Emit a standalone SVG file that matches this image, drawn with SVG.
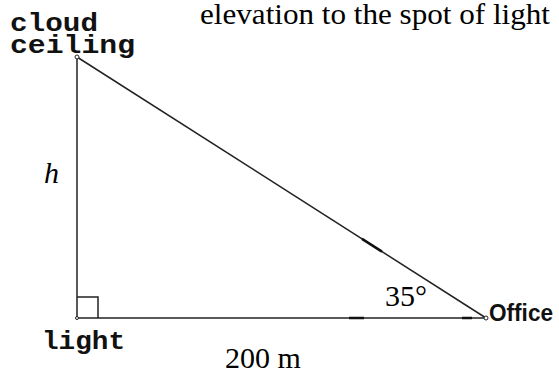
<svg xmlns="http://www.w3.org/2000/svg" width="559" height="372" viewBox="0 0 559 372">
<style>
.ln{stroke:#222;stroke-width:1.5;fill:none}
.thk{stroke:#111;stroke-width:2.5;fill:none}
.pt{fill:#fff;stroke:#222;stroke-width:1}
.mono{font-family:"Liberation Mono","DejaVu Sans Mono",monospace;font-weight:bold;font-size:25px;fill:#111}
.serif{font-family:"Liberation Serif","Times New Roman",serif;font-size:30px;fill:#000}
.sans{font-family:"Liberation Sans",Arial,sans-serif;font-weight:bold;font-size:24px;fill:#111}
</style>
<rect width="559" height="372" fill="#fff"/>
<g id="connectors">
<line class="ln" x1="77" y1="57" x2="77" y2="318"/>
<line class="ln" x1="77" y1="318" x2="486" y2="318"/>
<line class="ln" x1="77" y1="57" x2="486" y2="318"/>
<line class="thk" x1="349" y1="318" x2="364" y2="318"/>
<line class="thk" x1="462" y1="318" x2="472" y2="318"/>
<line class="thk" x1="362" y1="238.9" x2="382" y2="251.6"/>
<polyline class="ln" points="77,297 98,297 98,318"/>
</g>
<g id="cloud-ceiling">
<circle class="pt" cx="77" cy="57" r="2"/>
<text class="mono" x="10" y="31" textLength="88" lengthAdjust="spacingAndGlyphs">cloud</text>
<text class="mono" x="10" y="53" textLength="125" lengthAdjust="spacingAndGlyphs">ceiling</text>
</g>
<g id="light">
<circle class="pt" cx="77" cy="318" r="1.5"/>
<text class="mono" x="42" y="349" textLength="83" lengthAdjust="spacingAndGlyphs">light</text>
</g>
<g id="office">
<circle class="pt" cx="486" cy="318" r="2"/>
<text class="sans" x="489" y="321" textLength="64" lengthAdjust="spacingAndGlyphs">Office</text>
</g>
<g id="labels">
<text class="serif" x="200" y="24" textLength="350" lengthAdjust="spacingAndGlyphs">elevation to the spot of light</text>
<text class="serif" x="44" y="183" font-style="italic">h</text>
<text class="serif" x="385" y="306">35°</text>
<text class="serif" x="225" y="368" font-size="31">200 m</text>
</g>
</svg>
